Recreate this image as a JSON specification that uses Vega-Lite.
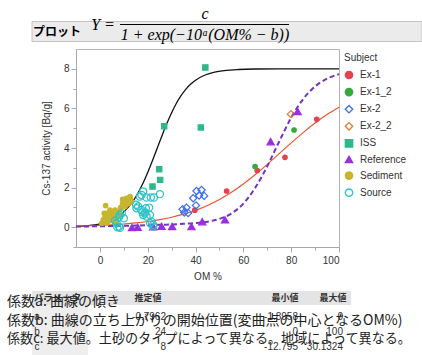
{
  "$schema": "https://vega.github.io/schema/vega-lite/v6.json",
  "width": 263,
  "height": 198,
  "autosize": {"type": "none"},
  "padding": {"left": 76, "top": 49, "right": 83, "bottom": 108},
  "background": "white",
  "config": {
    "font": "Liberation Sans",
    "view": {"stroke": "#b4b4b4", "strokeWidth": 1},
    "axis": {
      "labelFont": "Liberation Sans", "labelFontSize": 10, "labelColor": "#333333",
      "titleFont": "Liberation Sans", "titleFontSize": 10, "titleFontWeight": "normal", "titleColor": "#333333",
      "domainColor": "#a8a8a8", "tickColor": "#a8a8a8", "grid": false
    },
    "legend": {
      "titleFont": "Liberation Sans", "titleFontSize": 10, "titleFontWeight": "normal", "titleColor": "#333333",
      "labelFont": "Liberation Sans", "labelFontSize": 10, "labelColor": "#333333",
      "symbolSize": 55, "symbolStrokeWidth": 1.3, "rowPadding": 3.1, "labelOffset": 6, "titlePadding": 7, "padding": 0
    }
  },
  "datasets": {
    "pts": [
      {"Subject": "Ex-1", "OM": 39.7, "Cs": 0.86},
      {"Subject": "Ex-1", "OM": 53.0, "Cs": 1.83},
      {"Subject": "Ex-1", "OM": 65.8, "Cs": 2.86},
      {"Subject": "Ex-1", "OM": 77.4, "Cs": 3.53},
      {"Subject": "Ex-1", "OM": 90.7, "Cs": 5.45},
      {"Subject": "Ex-1_2", "OM": 64.9, "Cs": 3.06},
      {"Subject": "Ex-1_2", "OM": 81.2, "Cs": 4.91},
      {"Subject": "Ex-2", "OM": 34.6, "Cs": 0.91},
      {"Subject": "Ex-2", "OM": 36.2, "Cs": 0.99},
      {"Subject": "Ex-2", "OM": 35.3, "Cs": 0.74},
      {"Subject": "Ex-2", "OM": 36.9, "Cs": 0.72},
      {"Subject": "Ex-2", "OM": 39.0, "Cs": 1.46},
      {"Subject": "Ex-2", "OM": 40.2, "Cs": 1.1},
      {"Subject": "Ex-2", "OM": 40.4, "Cs": 1.83},
      {"Subject": "Ex-2", "OM": 42.5, "Cs": 1.88},
      {"Subject": "Ex-2", "OM": 41.5, "Cs": 1.6},
      {"Subject": "Ex-2", "OM": 43.6, "Cs": 1.58},
      {"Subject": "Ex-2_2", "OM": 79.9, "Cs": 5.71},
      {"Subject": "ISS", "OM": 44.1, "Cs": 8.07},
      {"Subject": "ISS", "OM": 26.9, "Cs": 5.1},
      {"Subject": "ISS", "OM": 42.2, "Cs": 5.04},
      {"Subject": "ISS", "OM": 24.8, "Cs": 2.93},
      {"Subject": "ISS", "OM": 25.2, "Cs": 2.39},
      {"Subject": "ISS", "OM": 22.0, "Cs": 2.05},
      {"Subject": "Reference", "OM": 13.4, "Cs": -0.02},
      {"Subject": "Reference", "OM": 15.8, "Cs": 0.0},
      {"Subject": "Reference", "OM": 22.3, "Cs": 0.02},
      {"Subject": "Reference", "OM": 25.8, "Cs": 0.05},
      {"Subject": "Reference", "OM": 30.2, "Cs": 0.04},
      {"Subject": "Reference", "OM": 38.3, "Cs": 0.03},
      {"Subject": "Reference", "OM": 42.8, "Cs": 0.28},
      {"Subject": "Reference", "OM": 52.3, "Cs": 0.37},
      {"Subject": "Reference", "OM": 71.4, "Cs": 4.32},
      {"Subject": "Reference", "OM": 82.7, "Cs": 5.84},
      {"Subject": "Sediment", "OM": 0.8, "Cs": 0.2},
      {"Subject": "Sediment", "OM": 1.4, "Cs": 0.37},
      {"Subject": "Sediment", "OM": 1.8, "Cs": 0.7},
      {"Subject": "Sediment", "OM": 2.0, "Cs": 0.45},
      {"Subject": "Sediment", "OM": 2.4, "Cs": 1.09},
      {"Subject": "Sediment", "OM": 2.5, "Cs": 0.7},
      {"Subject": "Sediment", "OM": 2.8, "Cs": 0.2},
      {"Subject": "Sediment", "OM": 3.2, "Cs": 0.45},
      {"Subject": "Sediment", "OM": 3.5, "Cs": 0.54},
      {"Subject": "Sediment", "OM": 3.5, "Cs": 0.3},
      {"Subject": "Sediment", "OM": 4.2, "Cs": 0.87},
      {"Subject": "Sediment", "OM": 4.6, "Cs": 0.79},
      {"Subject": "Sediment", "OM": 4.9, "Cs": 0.37},
      {"Subject": "Sediment", "OM": 5.0, "Cs": 0.55},
      {"Subject": "Sediment", "OM": 5.6, "Cs": 0.7},
      {"Subject": "Sediment", "OM": 6.3, "Cs": 0.87},
      {"Subject": "Sediment", "OM": 6.3, "Cs": 0.28},
      {"Subject": "Sediment", "OM": 6.7, "Cs": 0.79},
      {"Subject": "Sediment", "OM": 7.0, "Cs": 0.5},
      {"Subject": "Sediment", "OM": 7.5, "Cs": 0.6},
      {"Subject": "Sediment", "OM": 8.4, "Cs": 0.62},
      {"Subject": "Sediment", "OM": 8.6, "Cs": 0.96},
      {"Subject": "Sediment", "OM": 8.8, "Cs": 1.0},
      {"Subject": "Sediment", "OM": 9.5, "Cs": 1.41},
      {"Subject": "Sediment", "OM": 9.5, "Cs": 1.2},
      {"Subject": "Sediment", "OM": 10.0, "Cs": 1.1},
      {"Subject": "Sediment", "OM": 10.5, "Cs": 1.04},
      {"Subject": "Sediment", "OM": 11.1, "Cs": 1.46},
      {"Subject": "Sediment", "OM": 11.5, "Cs": 1.35},
      {"Subject": "Sediment", "OM": 11.8, "Cs": 1.18},
      {"Subject": "Sediment", "OM": 12.6, "Cs": 1.55},
      {"Subject": "Sediment", "OM": 12.6, "Cs": 1.46},
      {"Subject": "Sediment", "OM": 13.2, "Cs": 1.29},
      {"Subject": "Source", "OM": 6.3, "Cs": 0.33},
      {"Subject": "Source", "OM": 7.0, "Cs": 0.2},
      {"Subject": "Source", "OM": 7.3, "Cs": 0.0},
      {"Subject": "Source", "OM": 8.0, "Cs": 0.03},
      {"Subject": "Source", "OM": 8.4, "Cs": -0.03},
      {"Subject": "Source", "OM": 8.4, "Cs": 0.62},
      {"Subject": "Source", "OM": 8.0, "Cs": 0.5},
      {"Subject": "Source", "OM": 9.1, "Cs": 0.7},
      {"Subject": "Source", "OM": 10.0, "Cs": 0.45},
      {"Subject": "Source", "OM": 15.1, "Cs": 1.13},
      {"Subject": "Source", "OM": 15.3, "Cs": 0.96},
      {"Subject": "Source", "OM": 16.0, "Cs": 1.05},
      {"Subject": "Source", "OM": 16.7, "Cs": 1.55},
      {"Subject": "Source", "OM": 17.4, "Cs": 1.63},
      {"Subject": "Source", "OM": 18.1, "Cs": 1.8},
      {"Subject": "Source", "OM": 17.4, "Cs": 0.87},
      {"Subject": "Source", "OM": 18.1, "Cs": 0.62},
      {"Subject": "Source", "OM": 18.8, "Cs": 0.7},
      {"Subject": "Source", "OM": 17.8, "Cs": 0.75},
      {"Subject": "Source", "OM": 19.5, "Cs": 0.54},
      {"Subject": "Source", "OM": 19.2, "Cs": 0.96},
      {"Subject": "Source", "OM": 20.6, "Cs": 0.99},
      {"Subject": "Source", "OM": 19.5, "Cs": 1.5},
      {"Subject": "Source", "OM": 20.9, "Cs": 0.62},
      {"Subject": "Source", "OM": 21.3, "Cs": 1.5},
      {"Subject": "Source", "OM": 22.6, "Cs": 1.5},
      {"Subject": "Source", "OM": 25.1, "Cs": 1.67},
      {"Subject": "Source", "OM": 21.6, "Cs": 0.28},
      {"Subject": "Source", "OM": 22.3, "Cs": 0.12},
      {"Subject": "Source", "OM": 22.3, "Cs": 0.03},
      {"Subject": "Source", "OM": 21.0, "Cs": 0.2},
      {"Subject": "Source", "OM": 19.0, "Cs": 0.75}
    ],
    "curves": [
      {"fit": "All", "OM": -10, "Cs": 0.035},
      {"fit": "All", "OM": -5, "Cs": 0.077},
      {"fit": "All", "OM": 0, "Cs": 0.168},
      {"fit": "All", "OM": 4, "Cs": 0.314},
      {"fit": "All", "OM": 8, "Cs": 0.574},
      {"fit": "All", "OM": 12, "Cs": 1.023},
      {"fit": "All", "OM": 14, "Cs": 1.344},
      {"fit": "All", "OM": 16, "Cs": 1.74},
      {"fit": "All", "OM": 18, "Cs": 2.215},
      {"fit": "All", "OM": 20, "Cs": 2.762},
      {"fit": "All", "OM": 22, "Cs": 3.366},
      {"fit": "All", "OM": 24, "Cs": 4.0},
      {"fit": "All", "OM": 26, "Cs": 4.634},
      {"fit": "All", "OM": 28, "Cs": 5.238},
      {"fit": "All", "OM": 30, "Cs": 5.785},
      {"fit": "All", "OM": 32, "Cs": 6.26},
      {"fit": "All", "OM": 34, "Cs": 6.656},
      {"fit": "All", "OM": 36, "Cs": 6.977},
      {"fit": "All", "OM": 38, "Cs": 7.23},
      {"fit": "All", "OM": 40, "Cs": 7.426},
      {"fit": "All", "OM": 44, "Cs": 7.687},
      {"fit": "All", "OM": 48, "Cs": 7.832},
      {"fit": "All", "OM": 52, "Cs": 7.91},
      {"fit": "All", "OM": 58, "Cs": 7.965},
      {"fit": "All", "OM": 65, "Cs": 7.989},
      {"fit": "All", "OM": 75, "Cs": 7.998},
      {"fit": "All", "OM": 100, "Cs": 8.0},
      {"fit": "Ex-1", "OM": -10, "Cs": 0.052},
      {"fit": "Ex-1", "OM": -5, "Cs": 0.07},
      {"fit": "Ex-1", "OM": 0, "Cs": 0.093},
      {"fit": "Ex-1", "OM": 5, "Cs": 0.124},
      {"fit": "Ex-1", "OM": 10, "Cs": 0.165},
      {"fit": "Ex-1", "OM": 15, "Cs": 0.219},
      {"fit": "Ex-1", "OM": 20, "Cs": 0.29},
      {"fit": "Ex-1", "OM": 25, "Cs": 0.383},
      {"fit": "Ex-1", "OM": 30, "Cs": 0.503},
      {"fit": "Ex-1", "OM": 35, "Cs": 0.659},
      {"fit": "Ex-1", "OM": 40, "Cs": 0.855},
      {"fit": "Ex-1", "OM": 45, "Cs": 1.101},
      {"fit": "Ex-1", "OM": 50, "Cs": 1.402},
      {"fit": "Ex-1", "OM": 55, "Cs": 1.764},
      {"fit": "Ex-1", "OM": 60, "Cs": 2.185},
      {"fit": "Ex-1", "OM": 65, "Cs": 2.661},
      {"fit": "Ex-1", "OM": 70, "Cs": 3.177},
      {"fit": "Ex-1", "OM": 75, "Cs": 3.717},
      {"fit": "Ex-1", "OM": 80, "Cs": 4.259},
      {"fit": "Ex-1", "OM": 85, "Cs": 4.78},
      {"fit": "Ex-1", "OM": 90, "Cs": 5.261},
      {"fit": "Ex-1", "OM": 95, "Cs": 5.69},
      {"fit": "Ex-1", "OM": 100, "Cs": 6.058},
      {"fit": "Reference", "OM": -10, "Cs": 0.03},
      {"fit": "Reference", "OM": -5, "Cs": 0.04},
      {"fit": "Reference", "OM": 0, "Cs": 0.05},
      {"fit": "Reference", "OM": 5, "Cs": 0.06},
      {"fit": "Reference", "OM": 10, "Cs": 0.07},
      {"fit": "Reference", "OM": 15, "Cs": 0.08},
      {"fit": "Reference", "OM": 20, "Cs": 0.1},
      {"fit": "Reference", "OM": 25, "Cs": 0.12},
      {"fit": "Reference", "OM": 30, "Cs": 0.14},
      {"fit": "Reference", "OM": 35, "Cs": 0.17},
      {"fit": "Reference", "OM": 40, "Cs": 0.21},
      {"fit": "Reference", "OM": 45, "Cs": 0.28},
      {"fit": "Reference", "OM": 50, "Cs": 0.42},
      {"fit": "Reference", "OM": 55, "Cs": 0.69},
      {"fit": "Reference", "OM": 60, "Cs": 1.19},
      {"fit": "Reference", "OM": 65, "Cs": 2.0},
      {"fit": "Reference", "OM": 70, "Cs": 3.08},
      {"fit": "Reference", "OM": 75, "Cs": 4.33},
      {"fit": "Reference", "OM": 80, "Cs": 5.53},
      {"fit": "Reference", "OM": 85, "Cs": 6.47},
      {"fit": "Reference", "OM": 90, "Cs": 7.11},
      {"fit": "Reference", "OM": 95, "Cs": 7.5},
      {"fit": "Reference", "OM": 100, "Cs": 7.73}
    ],
    "params": [
      {"param": "a", "est": "-0.7962", "min": "-1.8958", "max": "0"},
      {"param": "b", "est": "24", "min": "0", "max": "100"},
      {"param": "c", "est": "8", "min": "-12.795", "max": "30.1324"}
    ],
    "notes": [
      {"n": 1, "text": "係数a: 曲線の傾き"},
      {"n": 2, "text": "係数b: 曲線の立ち上がりの開始位置(変曲点の中心となるOM%)"},
      {"n": 3, "text": "係数c: 最大値。土砂のタイプによって異なる。地域によって異なる。"}
    ]
  },
  "layer": [
    {
      "data": {"values": [{"part": "header"}]},
      "mark": {"type": "rect", "fill": "#ebebeb", "stroke": "#c4c4c4", "strokeWidth": 1},
      "encoding": {"x": {"value": -44}, "x2": {"value": 346}, "y": {"value": -27.5}, "y2": {"value": -7.5}}
    },
    {
      "data": {"values": [{"part": "bar"}]},
      "mark": {"type": "rule", "color": "#000000", "strokeWidth": 1},
      "encoding": {"x": {"value": 44}, "x2": {"value": 213}, "y": {"value": -24.5}}
    },
    {
      "data": {"values": [{"t": "プロット"}]},
      "mark": {"type": "text", "font": "Noto Sans CJK JP", "fontSize": 12, "fontWeight": "bold", "align": "left", "baseline": "middle", "color": "#000000"},
      "encoding": {"text": {"field": "t"}, "x": {"value": -43}, "y": {"value": -17}}
    },
    {
      "data": {"values": [{"t": "Y ="}]},
      "mark": {"type": "text", "font": "Liberation Serif", "fontSize": 16, "fontStyle": "italic", "align": "center", "baseline": "middle", "color": "#000000"},
      "encoding": {"text": {"field": "t"}, "x": {"value": 27}, "y": {"value": -24}}
    },
    {
      "data": {"values": [{"t": "c"}]},
      "mark": {"type": "text", "font": "Liberation Serif", "fontSize": 16, "fontStyle": "italic", "align": "center", "baseline": "middle", "color": "#000000"},
      "encoding": {"text": {"field": "t"}, "x": {"value": 129}, "y": {"value": -35}}
    },
    {
      "data": {"values": [{"t": "1 + exp(−10ᵃ(OM% − b))"}]},
      "mark": {"type": "text", "font": "Liberation Serif", "fontSize": 16, "fontStyle": "italic", "align": "center", "baseline": "middle", "color": "#000000"},
      "encoding": {"text": {"field": "t"}, "x": {"value": 129}, "y": {"value": -14}}
    },
    {
      "data": {"name": "curves"},
      "transform": [{"filter": "datum.fit === 'All'"}],
      "mark": {"type": "line", "color": "#111111", "strokeWidth": 1.3, "interpolate": "monotone"},
      "encoding": {
        "x": {"field": "OM", "type": "quantitative", "scale": {"domain": [-10, 100], "nice": false, "zero": false}, "axis": null},
        "y": {"field": "Cs", "type": "quantitative", "scale": {"domain": [-1, 9], "nice": false, "zero": false}, "axis": null}
      }
    },
    {
      "data": {"name": "curves"},
      "transform": [{"filter": "datum.fit === 'Ex-1'"}],
      "mark": {"type": "line", "color": "#e8532c", "strokeWidth": 1.1, "interpolate": "monotone"},
      "encoding": {
        "x": {"field": "OM", "type": "quantitative", "scale": {"domain": [-10, 100], "nice": false, "zero": false}, "axis": null},
        "y": {"field": "Cs", "type": "quantitative", "scale": {"domain": [-1, 9], "nice": false, "zero": false}, "axis": null}
      }
    },
    {
      "data": {"name": "curves"},
      "transform": [{"filter": "datum.fit === 'Reference'"}],
      "mark": {"type": "line", "color": "#7433c4", "strokeWidth": 2, "strokeDash": [5, 3], "interpolate": "monotone"},
      "encoding": {
        "x": {"field": "OM", "type": "quantitative", "scale": {"domain": [-10, 100], "nice": false, "zero": false},
              "axis": {"orient": "bottom", "values": [10, 30, 50, 70, 90], "tickSize": 3, "labels": false, "domain": false, "title": null}},
        "y": {"field": "Cs", "type": "quantitative", "scale": {"domain": [-1, 9], "nice": false, "zero": false},
              "axis": {"orient": "left", "values": [-1, 1, 3, 5, 7], "tickSize": 3, "labels": false, "domain": false, "title": null}}
      }
    },
    {
      "data": {"name": "pts"},
      "transform": [{"filter": "datum.Subject === 'Ex-1' || datum.Subject === 'Ex-1_2' || datum.Subject === 'Sediment'"}],
      "mark": {"type": "point", "strokeWidth": 1.2, "opacity": 1, "size": 20},
      "encoding": {
        "x": {"field": "OM", "type": "quantitative", "scale": {"domain": [-10, 100], "nice": false, "zero": false}, "axis": null},
        "y": {"field": "Cs", "type": "quantitative", "scale": {"domain": [-1, 9], "nice": false, "zero": false}, "axis": null},
        "fill": {"field": "Subject", "type": "nominal", "title": "Subject",
                 "legend": {"orient": "none", "legendX": 268, "legendY": 4},
                 "scale": {"domain": ["Ex-1", "Ex-1_2", "Ex-2", "Ex-2_2", "ISS", "Reference", "Sediment", "Source"],
                           "range": ["#e2434f", "#37a93c", "transparent", "transparent", "#2cb98a", "#9a2fe0", "#c7b52e", "transparent"]}},
        "stroke": {"field": "Subject", "type": "nominal", "title": "Subject",
                   "scale": {"domain": ["Ex-1", "Ex-1_2", "Ex-2", "Ex-2_2", "ISS", "Reference", "Sediment", "Source"],
                             "range": ["#e2434f", "#37a93c", "#3a6ff0", "#e07b30", "#2cb98a", "#9a2fe0", "#c7b52e", "#2fc2c8"]}},
        "shape": {"field": "Subject", "type": "nominal", "title": "Subject",
                  "scale": {"domain": ["Ex-1", "Ex-1_2", "Ex-2", "Ex-2_2", "ISS", "Reference", "Sediment", "Source"],
                            "range": ["circle", "circle", "diamond", "diamond", "square", "triangle-up", "circle", "circle"]}}
      }
    },
    {
      "data": {"name": "pts"},
      "transform": [{"filter": "datum.Subject === 'ISS'"}],
      "mark": {"type": "point", "strokeWidth": 1.2, "opacity": 1, "size": 28},
      "encoding": {
        "x": {"field": "OM", "type": "quantitative", "scale": {"domain": [-10, 100], "nice": false, "zero": false}, "axis": null},
        "y": {"field": "Cs", "type": "quantitative", "scale": {"domain": [-1, 9], "nice": false, "zero": false}, "axis": null},
        "fill": {"field": "Subject", "type": "nominal", "title": "Subject"},
        "stroke": {"field": "Subject", "type": "nominal", "title": "Subject"},
        "shape": {"field": "Subject", "type": "nominal", "title": "Subject"}
      }
    },
    {
      "data": {"name": "pts"},
      "transform": [{"filter": "datum.Subject === 'Ex-2' || datum.Subject === 'Ex-2_2' || datum.Subject === 'Reference' || datum.Subject === 'Source'"}],
      "mark": {"type": "point", "strokeWidth": 1.2, "opacity": 1, "size": 52},
      "encoding": {
        "x": {"field": "OM", "type": "quantitative", "scale": {"domain": [-10, 100], "nice": false, "zero": false},
              "axis": {"orient": "bottom", "values": [0, 20, 40, 60, 80, 100], "tickSize": 5, "labelPadding": 3, "title": "OM %", "titlePadding": 6}},
        "y": {"field": "Cs", "type": "quantitative", "scale": {"domain": [-1, 9], "nice": false, "zero": false},
              "axis": {"orient": "left", "values": [0, 2, 4, 6, 8], "tickSize": 5, "labelPadding": 2, "title": "Cs-137 activity [Bq/g]", "titlePadding": 12}},
        "fill": {"field": "Subject", "type": "nominal", "title": "Subject"},
        "stroke": {"field": "Subject", "type": "nominal", "title": "Subject"},
        "shape": {"field": "Subject", "type": "nominal", "title": "Subject"}
      }
    },
    {
      "data": {"values": [{"part": "band"}]},
      "mark": {"type": "rect", "fill": "#e4e4e4"},
      "encoding": {"x": {"value": -44}, "x2": {"value": 275}, "y": {"value": 242}, "y2": {"value": 256}}
    },
    {
      "data": {"values": [{"part": "col"}]},
      "mark": {"type": "rect", "fill": "#eeeeee"},
      "encoding": {"x": {"value": -44}, "x2": {"value": 12}, "y": {"value": 256}, "y2": {"value": 306}}
    },
    {
      "data": {"values": [{"t": "パラメータ"}]},
      "mark": {"type": "text", "font": "Noto Sans CJK JP", "fontSize": 9.5, "fontWeight": "bold", "align": "left", "baseline": "middle", "color": "#333333"},
      "encoding": {"text": {"field": "t"}, "x": {"value": -42}, "y": {"value": 249}}
    },
    {
      "data": {"values": [{"t": "推定値"}]},
      "mark": {"type": "text", "font": "Noto Sans CJK JP", "fontSize": 9, "fontWeight": "bold", "align": "center", "baseline": "middle", "color": "#333333"},
      "encoding": {"text": {"field": "t"}, "x": {"value": 72}, "y": {"value": 249}}
    },
    {
      "data": {"values": [{"t": "最小値"}]},
      "mark": {"type": "text", "font": "Noto Sans CJK JP", "fontSize": 9, "fontWeight": "bold", "align": "center", "baseline": "middle", "color": "#333333"},
      "encoding": {"text": {"field": "t"}, "x": {"value": 209}, "y": {"value": 249}}
    },
    {
      "data": {"values": [{"t": "最大値"}]},
      "mark": {"type": "text", "font": "Noto Sans CJK JP", "fontSize": 9, "fontWeight": "bold", "align": "center", "baseline": "middle", "color": "#333333"},
      "encoding": {"text": {"field": "t"}, "x": {"value": 257}, "y": {"value": 249}}
    },
    {
      "data": {"name": "params"},
      "mark": {"type": "text", "fontSize": 10, "align": "center", "baseline": "middle", "color": "#333333"},
      "encoding": {"text": {"field": "param"}, "x": {"value": -39},
                   "y": {"field": "param", "type": "nominal", "scale": {"type": "point", "range": [268, 298], "padding": 0}, "axis": null}}
    },
    {
      "data": {"name": "params"},
      "mark": {"type": "text", "fontSize": 10, "align": "right", "baseline": "middle", "color": "#333333"},
      "encoding": {"text": {"field": "est"}, "x": {"value": 90},
                   "y": {"field": "param", "type": "nominal", "scale": {"type": "point", "range": [268, 298], "padding": 0}, "axis": null}}
    },
    {
      "data": {"name": "params"},
      "mark": {"type": "text", "fontSize": 10, "align": "right", "baseline": "middle", "color": "#333333"},
      "encoding": {"text": {"field": "min"}, "x": {"value": 222},
                   "y": {"field": "param", "type": "nominal", "scale": {"type": "point", "range": [268, 298], "padding": 0}, "axis": null}}
    },
    {
      "data": {"name": "params"},
      "mark": {"type": "text", "fontSize": 10, "align": "right", "baseline": "middle", "color": "#333333"},
      "encoding": {"text": {"field": "max"}, "x": {"value": 267},
                   "y": {"field": "param", "type": "nominal", "scale": {"type": "point", "range": [268, 298], "padding": 0}, "axis": null}}
    },
    {
      "data": {"name": "notes"},
      "transform": [{"filter": "datum.n < 3"}],
      "mark": {"type": "text", "font": "Noto Sans CJK JP", "fontSize": 14, "align": "left", "baseline": "middle", "color": "#222222"},
      "encoding": {"text": {"field": "text"}, "x": {"value": -69},
                   "y": {"field": "n", "type": "ordinal", "scale": {"type": "point", "domain": [1, 2, 3], "range": [253, 290], "padding": 0}, "axis": null}}
    },
    {
      "data": {"name": "notes"},
      "transform": [{"filter": "datum.n === 3"}],
      "mark": {"type": "text", "font": "Noto Sans CJK JP", "fontSize": 13.1, "align": "left", "baseline": "middle", "color": "#222222"},
      "encoding": {"text": {"field": "text"}, "x": {"value": -69},
                   "y": {"field": "n", "type": "ordinal", "scale": {"type": "point", "domain": [1, 2, 3], "range": [253, 290], "padding": 0}, "axis": null}}
    }
  ],
  "resolve": {"scale": {"y": "independent"}, "axis": {"x": "independent", "y": "independent"}}
}
